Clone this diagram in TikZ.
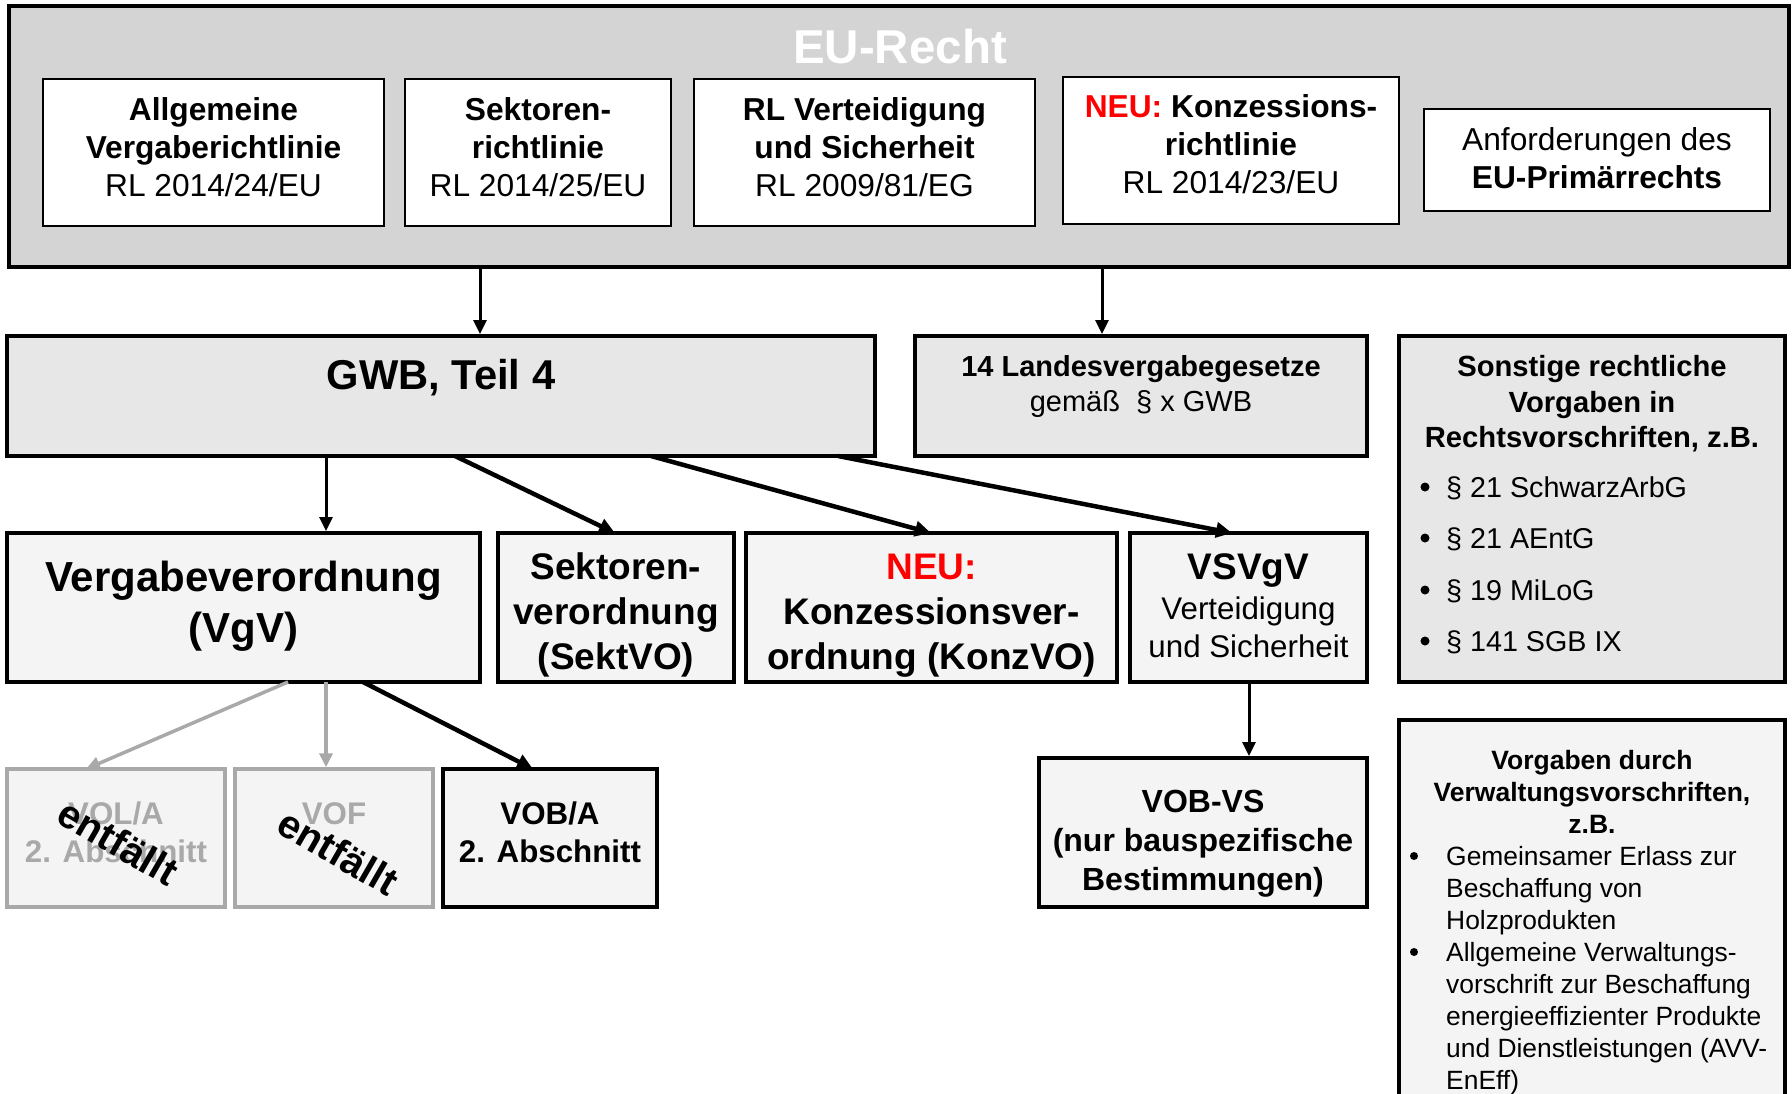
\documentclass[tikz,border=0pt]{standalone}
\usepackage{fontspec}
\setmainfont{Liberation Sans}
\usetikzlibrary{arrows.meta}
\definecolor{eugray}{HTML}{D4D4D4}
\definecolor{gwbgray}{HTML}{E7E7E7}
\definecolor{lightbox}{HTML}{F4F4F4}
\definecolor{paleline}{HTML}{A9A9A9}
\definecolor{neured}{HTML}{FF0000}
\newcommand{\fsz}[2]{\fontsize{#1}{#2}\selectfont}
\tikzset{
  topbox/.style={draw=black, line width=2pt, fill=white},
  bigbox/.style={draw=black, line width=4pt},
  palebox/.style={draw=paleline, line width=3.5pt, fill=lightbox},
  txt/.style={inner sep=0pt, align=center, anchor=base},
  arr/.style={line width=3pt, -{Triangle[length=14pt,width=13pt]}},
  darr/.style={line width=4.5pt, -{Triangle[length=16pt,width=15pt]}},
  parr/.style={line width=3.5pt, draw=paleline, -{Triangle[length=14pt,width=13pt,fill=paleline]}},
}
\begin{document}
\begin{tikzpicture}[x=1pt,y=-1pt]
\clip (0,0) rectangle (1792,1093);
\fill[white] (0,0) rectangle (1792,1093);

% EU-Recht frame
\draw[bigbox, fill=eugray, line width=3.5pt] (9,6) rectangle (1789,267);
\node[txt, text=white, font=\bfseries\fsz{47.5}{57}] (eutitle) at (900,63) {EU-Recht};

% top boxes (base = baseline of last line)
\draw[topbox] (43,79) rectangle (384,226);
\node[txt, font=\fsz{31.7}{38}] (allg) at (213.5,196) {\textbf{Allgemeine}\\\textbf{Vergaberichtlinie}\\RL 2014/24/EU};
\draw[topbox] (405,79) rectangle (671,226);
\node[txt, font=\fsz{31.7}{38}] (sekrl) at (538,196) {\textbf{Sektoren-}\\\textbf{richtlinie}\\RL 2014/25/EU};
\draw[topbox] (694,79) rectangle (1035,226);
\node[txt, font=\fsz{31.7}{38}] (rlvs) at (864.5,196) {\textbf{RL Verteidigung}\\\textbf{und Sicherheit}\\RL 2009/81/EG};
\draw[topbox] (1063,77) rectangle (1399,224);
\node[txt, font=\fsz{31.7}{38}] (konzrl) at (1231,193) {\textbf{\textcolor{neured}{NEU:} Konzessions-}\\\textbf{richtlinie}\\RL 2014/23/EU};
\draw[topbox] (1424,109) rectangle (1770,211);
\node[txt, font=\fsz{31.7}{38}] (primaer) at (1597,188) {Anforderungen des\\\textbf{EU-Primärrechts}};

% coordinates of EU frame bottom
\coordinate (eub1) at (480,267);
\coordinate (eub2) at (1102,267);

% second level
\node[bigbox, fill=gwbgray, minimum width=868pt, minimum height=120pt, inner sep=0pt] (gwb) at (441,396) {};
\node[txt, font=\bfseries\fsz{41.7}{50}] (gwbt) at (441,389) {GWB, Teil 4};
\node[bigbox, fill=gwbgray, minimum width=452pt, minimum height=120pt, inner sep=0pt] (landes) at (1141,396) {};
\node[txt, font=\fsz{29}{35}] (landest) at (1141,411.5) {\textbf{14 Landesvergabegesetze}\\gemäß\ \ § x GWB};
\node[bigbox, fill=gwbgray, minimum width=386pt, minimum height=346pt, inner sep=0pt] (sonst) at (1592,509) {};
\node[txt, font=\bfseries\fsz{29.2}{35.5}] (sonstt) at (1592,447.5) {Sonstige rechtliche\\Vorgaben in\\Rechtsvorschriften, z.B.};
\foreach \yy/\tt [count=\i] in {497/{§ 21 SchwarzArbG},548/{§ 21 AEntG},600/{§ 19 MiLoG},651/{§ 141 SGB IX}}{
  \node[inner sep=0pt, anchor=base west, font=\fsz{28.7}{34}] (sb\i) at (1446,\yy) {\tt};
  \fill (1425,\yy-10) circle (4.5pt);
}

\draw[arr] (eub1) -- (gwb.north -| eub1);
\draw[arr] (eub2) -- (landes.north -| eub2);

% third level
\node[bigbox, fill=lightbox, minimum width=473pt, minimum height=149pt, inner sep=0pt] (vgv) at (243.5,607.5) {};
\node[txt, font=\bfseries\fsz{42}{51}] (vgvt) at (243.5,642) {Vergabeverordnung\\(VgV)};
\node[bigbox, fill=lightbox, minimum width=236pt, minimum height=149pt, inner sep=0pt] (sekt) at (616,607.5) {};
\node[txt, font=\bfseries\fsz{37}{45}] (sektt) at (616,669) {Sektoren-\\verordnung\\(SektVO)};
\node[bigbox, fill=lightbox, minimum width=371pt, minimum height=149pt, inner sep=0pt] (konz) at (931.5,607.5) {};
\node[txt, font=\bfseries\fsz{37}{45}] (konzt) at (931.5,669) {\textcolor{neured}{NEU:}\\Konzessionsver-\\ordnung (KonzVO)};
\node[bigbox, fill=lightbox, minimum width=237pt, minimum height=149pt, inner sep=0pt] (vsvgv) at (1248.5,607.5) {};
\node[txt, font=\bfseries\fsz{37}{45}] (vsvgvt) at (1248.5,579) {VSVgV};
\node[txt, font=\fsz{31.3}{38}] (vsvgvs) at (1248.5,657) {Verteidigung\\und Sicherheit};

\coordinate (g1) at (326,456);
\coordinate (g2) at (455,456);
\coordinate (g3) at (651,456);
\coordinate (g4) at (838,456);
\coordinate (t2) at (615,533);
\coordinate (t3) at (931,533);
\coordinate (t4) at (1232,533);
\draw[arr] (g1) -- (vgv.north -| g1);
\draw[darr] (g2) -- (t2);
\draw[darr] (g3) -- (t3);
\draw[darr] (g4) -- (t4);

% fourth level
\node[palebox, minimum width=218pt, minimum height=138pt, inner sep=0pt] (vol) at (116,838) {};
\node[txt, text=paleline, font=\bfseries\fsz{31.3}{38}] (volt) at (116,862) {VOL/A\\2. Abschnitt};
\node[palebox, minimum width=198pt, minimum height=138pt, inner sep=0pt] (vof) at (334,838) {};
\node[txt, text=paleline, font=\bfseries\fsz{31.3}{38}] (voft) at (334,824) {VOF};
\node[inner sep=0pt, rotate=-30, font=\bfseries\fsz{40}{48}] (ent1) at (118,842) {entfällt};
\node[inner sep=0pt, rotate=-30, font=\bfseries\fsz{40}{48}] (ent2) at (338,852) {entfällt};
\node[bigbox, fill=lightbox, minimum width=214pt, minimum height=138pt, inner sep=0pt] (vob) at (550,838) {};
\node[txt, font=\bfseries\fsz{31.3}{38}] (vobt) at (550,862) {VOB/A\\2. Abschnitt};

\coordinate (v1) at (288,682);
\coordinate (v2) at (326,682);
\coordinate (v3) at (363,682);
\coordinate (w1) at (86,769);
\coordinate (w3) at (533,769);
\draw[parr] (v1) -- (w1);
\draw[parr] (v2) -- (vof.north -| v2);
\draw[darr] (v3) -- (w3);

\node[bigbox, fill=lightbox, minimum width=328pt, minimum height=149pt, inner sep=0pt] (vobvs) at (1203,832.5) {};
\node[txt, font=\bfseries\fsz{32}{39}] (vobvst) at (1203,890.5) {VOB-VS\\(nur bauspezifische\\Bestimmungen)};
\coordinate (vs1) at (1249,682);
\draw[arr] (vs1) -- (vobvs.north -| vs1);

% Verwaltungsvorschriften box (runs off the bottom)
\draw[bigbox, fill=lightbox] (1399,1110) -- (1399,720) -- (1785,720) -- (1785,1110);
\node[txt, font=\bfseries\fsz{26.5}{32}] (vorgt) at (1592,833.5) {Vorgaben durch\\Verwaltungsvorschriften,\\z.B.};
\node[inner sep=0pt, anchor=base west, align=left, font=\fsz{26.4}{32}] (vorgb) at (1446,1089.5) {Gemeinsamer Erlass zur\\Beschaffung von\\Holzprodukten\\Allgemeine Verwaltungs-\\vorschrift zur Beschaffung\\energieeffizienter Produkte\\und Dienstleistungen (AVV-\\EnEff)};
\fill (1414,856) circle (4pt);
\fill (1414,952) circle (4pt);
\end{tikzpicture}
\end{document}
